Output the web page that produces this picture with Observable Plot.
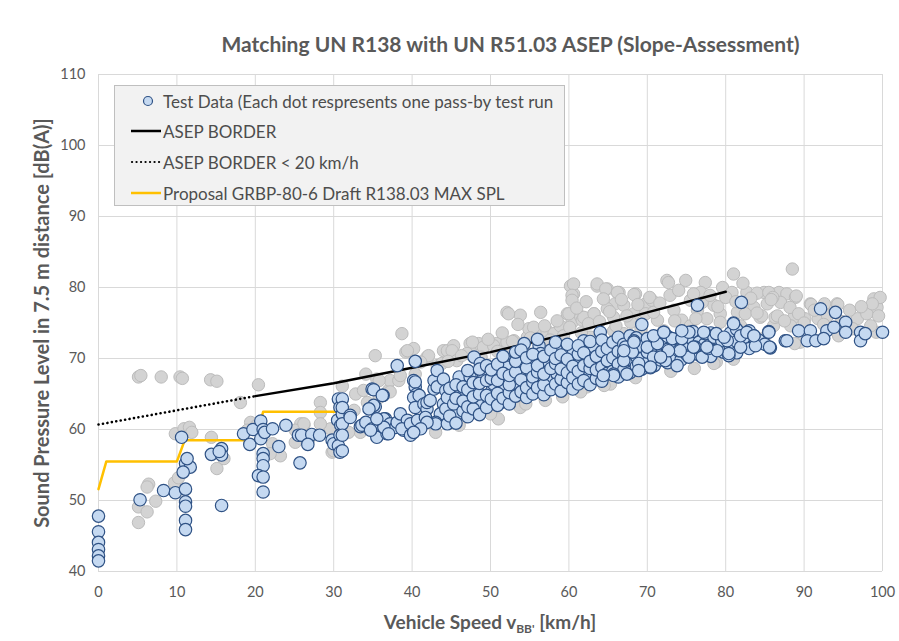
<!DOCTYPE html>
<html>
<head>
<meta charset="utf-8">
<script src="https://cdn.jsdelivr.net/npm/d3@7"></script>
<script src="https://cdn.jsdelivr.net/npm/@observablehq/plot@0.6"></script>
<style>
  html, body { margin: 0; padding: 0; background: #fff; }
  #wrap { position: relative; width: 899px; height: 641px; font-family: Lato, "Open Sans", sans-serif; }
  #legend { position: absolute; left: 114px; top: 85px; width: 451px; height: 121px; background: #f2f2f2; border: 1px solid #bfbfbf; box-sizing: border-box; }
  .row { position: absolute; left: 14px; height: 20px; display: flex; align-items: center; font-size: 17px; color: #4d4d4d; white-space: nowrap; }
  .row svg { width: 34px; height: 20px; }
</style>
</head>
<body>
<div id="wrap"></div>
<script>
// ---- text ----
const chartTitle = "Matching UN R138 with UN R51.03 ASEP (Slope-Assessment)";
const yTitle = "Sound Pressure Level in 7.5 m distance [dB(A)]";
const legendLabels = [
  "Test Data (Each dot respresents one pass-by test run",
  "ASEP BORDER",
  "ASEP BORDER < 20 km/h",
  "Proposal GRBP-80-6 Draft R138.03 MAX SPL"
];
const xTicks = [0, 10, 20, 30, 40, 50, 60, 70, 80, 90, 100];
const yTicks = [40, 50, 60, 70, 80, 90, 100, 110];

// ---- limit lines ----
const asepSpeed = [20, 30, 40, 50, 60, 70, 80];
const asepLevel = [64.7, 66.5, 68.7, 70.9, 73.5, 76.5, 79.4];
const asepLowSpeed = [0, 20];
const asepLowLevel = [60.7, 64.7];
const r138Speed = [0, 1, 10, 11, 20, 21, 30.2];
const r138Level = [51.6, 55.5, 55.5, 58.5, 58.5, 62.5, 62.5];

// ---- test data (blue): [speed km/h, level dB(A)] ----
const testRuns = [
[0,47.8],[0,45.6],[0,44.1],[0,43.1],[0,42.2],[0,41.5],
[5.3,50.1],[8.3,51.4],[9.8,51.1],
[10.6,58.9],[11.1,55.2],[11.7,54.7],[10.8,54.0],[11.3,55.9],[11.1,51.6],[11.1,49.8],[11.1,49.2],[11.1,47.2],[11.1,45.9],
[14.4,56.5],[15.7,57.3],[15.7,56.4],[15.4,56.9],[15.7,49.3],
[18.5,59.4],[19.3,57.9],[19.7,60.0],[20.7,61.2],[21.0,60.0],[20.7,58.7],[21.2,59.6],[21.0,56.6],[21.0,55.9],[21.0,54.9],[20.4,53.5],[21.0,53.3],[21.0,51.2],
[22.2,60.1],[23.9,60.6],[23.0,57.6],[25.7,55.3],[25.5,59.2],[25.9,59.2],[27.2,59.3],[28.2,59.2],[26.7,57.9],[29.8,58.5],[30.0,58.0],
[30.6,64.3],[30.8,63.1],[30.5,61.3],[30.9,60.6],[30.8,59.2],[30.6,57.7],[30.8,56.8],[31.1,62.2],[31.1,64.3],[31.1,63.1],[31.1,60.8],[31.1,59.2],[31.1,57.0],
[32.1,62.0],[32.1,61.7],[33.4,60.4],[33.6,60.6],[34.9,65.7],[35.1,65.6],[36.3,64.8],[35.3,63.2],[35.1,63.4],[34.5,62.9],[34.1,61.0],[34.9,60.1],[35.5,58.9],[36.6,61.5],[36.4,61.5],[36.8,59.4],[37.2,60.8],[37.9,60.3],[38.1,69.0],[40.4,69.6],
[38.1,61.0],[38.5,62.2],[38.9,59.9],[39.4,61.3],[38.7,60.1],[39.8,60.8],[39.8,59.2],[40.7,61.3],[40.2,66.9],[40.4,66.0],[40.4,66.7],[40.6,65.0],[40.2,64.5],[40.9,64.8],[40.4,63.1],[41.5,63.6],[41.9,62.9],[41.9,63.8],[41.7,61.7],[42.3,64.1],[42.8,65.7],[42.8,66.9],[43.2,68.3],[43.2,66.0],[44.0,67.1],[44.3,65.5],[44.0,63.6],[43.6,62.2],[43.0,61.0],[43.0,60.8],[41.9,61.0],[41.1,60.1],[40.2,59.6],[44.5,60.8],[44.3,62.9],[44.5,64.5],[36.2,64.8],[34.7,59.9],[36.4,60.3],[37.0,59.4],[35.5,61.5],
[45.8,62.2],[45.3,63.6],[46.0,67.4],[46.2,65.3],[47.4,67.4],[47.9,70.2],[48.7,69.3],[48.3,63.8],[49.1,67.8],[50.2,65.5],[50.4,66.4],[51.3,63.8],[51.7,65.5],[52.3,69.5],[52.1,68.8],[53.0,66.7],[53.8,66.2],[54.3,72.1],[53.8,70.0],[55.1,68.3],[55.5,69.3],[56.2,71.8],[56.4,70.7],[57.2,69.7],[57.4,67.4],[58.1,66.0],[58.5,67.8],[58.7,71.4],[59.8,71.1],[59.4,69.5],[60.4,66.0],[60.6,71.1],[61.5,69.7],[61.9,72.5],[62.3,67.8],[63.2,71.6],[64.0,73.7],[64.5,67.6],[65.3,70.2],
[44.8,61.9],[44.8,65.8],[45.6,60.9],[45.6,64.4],[45.6,66.3],[46.5,62.6],[46.5,64.0],[46.5,66.0],[47.1,61.8],[47.1,63.2],[47.1,65.6],[47.1,68.3],[47.8,62.9],[47.8,64.6],[47.8,66.6],[48.6,62.1],[48.6,65.0],[48.6,66.5],[48.6,68.5],[49.5,63.1],[49.5,64.8],[49.5,66.9],[49.5,69.0],[50.1,64.3],[50.1,67.2],[50.1,68.4],[50.9,63.4],[50.9,65.1],[50.9,66.9],[50.9,69.2],[51.6,64.4],[51.6,67.9],[51.6,70.3],[52.4,63.6],[52.4,65.2],[52.4,66.3],[52.4,67.6],[53.2,64.7],[53.2,68.1],[53.2,69.6],[53.2,70.9],[53.9,65.3],[53.9,67.0],[53.9,71.2],[54.6,64.5],[54.6,65.9],[54.6,68.7],[54.6,70.1],[55.4,65.0],[55.4,66.7],[55.4,67.4],[55.4,70.6],[56.0,65.9],[56.0,68.1],[56.0,69.0],[56.0,72.7],[56.8,64.9],[56.8,66.3],[56.8,67.8],[56.8,70.3],[57.7,65.6],[57.7,68.6],[57.7,71.2],[58.3,66.4],[58.3,69.3],[58.3,70.0],[58.3,72.3],[59.0,65.4],[59.0,67.1],[59.0,68.5],[59.0,70.5],[59.8,66.6],[59.8,68.0],[59.8,69.9],[59.8,72.0],[60.5,65.7],[60.5,67.3],[60.5,68.9],[61.2,66.4],[61.2,68.2],[61.2,70.6],[61.2,71.8],[61.9,66.9],[61.9,69.0],[61.9,70.8],[62.7,66.3],[62.7,68.6],[62.7,69.6],[62.7,72.4],[63.5,67.2],[63.5,68.4],[63.5,70.3],[64.2,66.8],[64.2,68.8],[64.2,71.0],[64.2,72.6],[64.9,67.9],[64.9,69.7],[64.9,71.4],[65.6,68.2],[65.6,70.1],[65.6,72.3],[66.3,67.4],[66.3,69.2],[66.3,71.0],[66.3,73.0],[67.0,68.4],[67.0,70.5],[67.0,72.0],[67.8,68.0],[67.8,69.9],[67.8,71.3],[67.8,73.2],[68.6,68.9],[68.6,70.3],[68.6,72.9],[69.3,68.5],[69.3,70.0],[69.3,71.7],[70.0,69.4],[70.0,70.9],[70.0,72.8],[70.9,69.0],[70.9,71.2],[70.9,73.0],[71.7,69.8],[71.7,70.5],[71.7,72.4],[72.6,69.4],[72.6,71.3],[72.6,73.1],[73.4,70.2],[73.4,71.9],[74.3,69.8],[74.3,71.5],[74.3,73.3],[75.0,70.6],[75.0,72.1],[75.8,70.9],[75.8,72.6],[75.8,73.8],[76.6,70.5],[76.6,72.3],[77.3,71.0],[77.3,72.0],[78.1,70.3],[78.1,72.2],[78.1,73.6],[78.9,71.3],[78.9,72.8],[79.7,70.9],[79.7,71.9],[80.6,71.6],[80.6,73.6],[81.4,70.8],[81.4,72.4],[81.4,74.1],[82.3,72.0],[82.3,72.9],[83.0,71.4],[83.0,73.9],[84.2,72.6],[85.0,72.0],
[65.7,67.8],[67.2,71.6],[68.1,70.9],[68.3,72.5],[67.0,69.7],[68.9,69.3],[70.4,68.7],[70.0,71.6],[71.3,72.1],[72.3,69.7],[72.1,73.7],[73.2,72.8],[74.0,71.1],[73.8,69.0],[74.4,72.8],[75.3,73.7],[75.3,70.2],[76.1,71.6],[77.0,70.2],[77.4,73.5],[77.8,71.4],[78.5,73.0],[79.5,72.5],[80.4,70.4],[81.0,75.0],[81.9,71.6],[81.9,73.2],[82.7,73.7],[83.6,73.2],[83.8,71.8],[85.5,73.8],[85.7,71.5],[76.4,77.5],[82.0,77.9],[69.3,74.8],[87.6,72.5],[70.8,70.2],
[83.6,73.2],[80.2,72.5],[80.4,70.7],[78.9,71.1],[77.6,71.6],[75.9,71.6],[74.2,71.1],[72.7,71.1],[71.7,70.2],[70.4,68.8],[68.9,68.3],[67.4,67.8],[65.7,67.6],[64.4,67.6],[67.0,71.1],[68.3,72.3],[70.8,73.2],[72.1,73.7],[74.4,73.9],[77.2,73.7],[78.8,73.5],[79.8,73.0],[81.0,74.9],
[87.8,72.5],[89.3,73.9],[90.8,73.9],[90.4,72.5],[91.5,72.5],[92.1,77.0],[92.9,73.9],[93.8,74.4],[94.0,76.5],[95.3,75.1],[95.3,73.7],[97.2,73.7],[97.2,72.5],[97.8,73.5],[100,73.7],[85.5,73.7],[85.6,71.6],[92.5,72.8]
];

// ---- other runs (grey): [speed km/h, level dB(A)] ----
const otherRuns = [
[5.1,67.4],[5.4,67.6],[8.0,67.4],[10.4,67.4],[10.7,67.2],[14.3,67.0],[15.1,66.8],[20.4,66.3],[18.1,63.8],
[9.8,59.4],[10.9,60.1],[11.6,60.3],[11.9,59.6],[14.4,58.9],[15.1,54.5],[16.0,55.9],[9.7,52.5],[10.2,53.2],[6.4,52.3],[6.2,51.9],[7.3,49.9],[5.1,49.1],[6.2,48.4],[5.1,46.9],
[19.4,61.0],[19.0,59.9],[20.2,60.6],
[22.2,58.0],[23.2,56.3],[21.9,56.6],[25.1,58.2],[25.8,60.8],[26.2,60.6],[25.1,59.9],[28.3,63.8],[28.3,62.4],[29.6,60.1],[29.8,56.8],[27.0,58.9],[28.3,60.8],[26.2,60.8],
[31.1,66.1],[32.8,65.0],[33.8,65.5],[35.8,64.5],[37.0,65.5],[37.2,66.9],[35.5,67.1],[34.3,63.8],[32.6,62.7],[33.4,59.6],[31.9,59.6],[30.0,57.0],[34.1,67.8],[35.8,66.9],[38.3,66.9],[37.2,65.3],[38.7,73.5],[35.3,70.4],[39.2,70.9],[40.2,71.4],[39.4,71.1],[41.9,70.2],[42.1,70.4],[44.0,71.1],[38.5,67.6],[40.4,67.8],[41.1,69.5],[43.2,69.0],[43.8,69.3],[44.5,71.1],[43.0,59.6],
[45.3,71.8],[45.1,71.1],[47.4,72.1],[47.9,71.1],[47.0,70.7],[45.7,69.7],[48.5,72.1],[50.8,72.1],[52.1,71.4],[53.0,72.5],[54.7,73.0],[55.5,73.5],[46.6,61.7],[49.6,63.1],[53.6,63.4],[51.0,61.5],
[52.1,76.5],[53.8,76.1],[54.9,74.2],[56.4,76.5],[56.2,73.9],[57.2,73.9],[58.1,73.5],[59.8,76.3],[60.4,75.1],[60.6,79.1],[60.2,80.2],[63.6,80.2],[61.5,75.9],[62.8,75.6],[63.2,76.3],
[60.6,80.5],[64.9,79.8],[66.2,79.3],[60.4,78.9],[60.4,78.2],[52.3,76.3],[60.0,76.3],[61.7,75.4],[65.9,77.7],[55.5,74.4],[58.9,74.6],[47.7,72.3],[49.1,71.6],[50.4,71.8],[52.1,72.3],
[63.6,80.5],[64.7,79.8],[66.4,79.3],[68.5,79.1],[69.8,77.7],[72.5,81.0],[74.9,81.0],[77.4,80.7],[79.6,80.0],[81.0,81.9],[80.8,79.3],[82.7,79.3],[84.9,79.3],[86.8,79.3],[87.8,79.1],[88.9,78.6],[88.5,82.6],[90.8,77.7],[92.5,77.2],[94.2,77.7],[96.8,75.6],[98.0,76.3],[99.3,77.2],[98.9,78.4],[99.7,78.6],
[78.5,77.5],[79.3,76.3],[81.5,76.5],[83.6,77.2],[85.3,77.7],[87.0,77.9],[88.7,75.8],[61.9,75.8],[63.2,76.3],[64.9,77.0],[65.7,75.8],[67.0,77.5],[68.3,76.3],[69.8,76.3],[71.3,75.4],[73.4,76.8],[75.5,78.2],[76.8,79.3],[74.4,75.4],[76.4,76.8],[77.6,75.6],[79.3,75.1],[81.9,74.6],[84.4,75.8],[86.1,74.6],[89.5,72.3],[65.7,73.9],[67.9,75.1],[62.8,73.0],[67.0,73.5],[72.1,73.9],[75.5,74.6],[78.8,69.5],[65.3,66.4],[62.3,66.0],[74.4,70.0],[70.0,69.3],
[72.7,80.7],[66.2,79.3],[68.3,79.0],[70.6,78.2],[84.0,79.2],[85.5,79.3],[82.5,76.3],[84.6,76.0],[86.3,75.8],[86.0,78.6],[89.0,78.8],[90.9,77.6],[92.6,77.7],[94.3,77.6],[90.1,75.6],[91.8,75.6],[98.7,77.7],[88.3,74.6],[88.8,72.1],[99.2,73.7],[78.5,69.3],[53.8,63.1],[64.5,66.2],
[44.6,69.6],[46.3,70.4],[48.8,70.2],[49.7,72.7],[50.9,71.0],[51.5,73.6],[52.8,72.4],[53.5,74.8],[54.4,71.0],[55.1,72.9],[56.9,74.6],[57.6,72.6],[58.5,75.3],[59.3,73.2],[60.1,74.4],[61.0,77.1],[61.6,73.6],[62.2,78.0],[62.5,74.9],[63.9,75.2],[64.4,78.4],[65.2,76.6],[66.0,74.6],[66.7,78.3],[67.4,76.0],[68.8,77.6],[69.2,74.2],[70.3,78.6],[70.8,76.5],[71.6,77.8],[72.9,78.9],[73.5,75.3],[74.0,79.6],[75.9,79.1],[76.2,75.6],[77.0,77.9],[78.0,78.9],[79.0,77.3],[80.0,78.6],[81.3,78.0],[82.2,80.6],[83.2,78.5],[84.0,76.4],[85.8,78.3],[86.6,76.0],[87.5,75.3],[88.2,77.2],[89.3,76.3],[90.0,75.0],[91.3,76.8],[93.0,76.0],[94.8,75.2],[95.8,76.8],[97.3,77.3],[98.5,74.6],[99.5,76.0],[92.5,74.8],[96.2,74.2],
[46.0,60.6],[50.0,62.2],[54.5,63.6],[57.0,64.1],[59.2,64.6],[61.5,65.3],[68.5,67.3],[73.0,68.2],[76.0,68.6],[81.0,69.9],[84.9,72.9],[94.4,73.2]
];

const asepLine = asepSpeed.map((s, i) => ({speed: s, level: asepLevel[i]}));
const asepLowLine = asepLowSpeed.map((s, i) => ({speed: s, level: asepLowLevel[i]}));
const r138Line = r138Speed.map((s, i) => ({speed: s, level: r138Level[i]}));
const blue = testRuns.map(([speed, level]) => ({speed, level}));
const grey = otherRuns.map(([speed, level]) => ({speed, level}));

const textColor = "#595959";
const plot = Plot.plot({
  width: 899,
  height: 641,
  marginLeft: 98,
  marginRight: 17,
  marginTop: 74,
  marginBottom: 70,
  style: {fontFamily: "Lato, 'Open Sans', sans-serif", color: textColor, background: "#fff"},
  x: {domain: [0, 100]},
  y: {domain: [40, 110]},
  marks: [
    Plot.gridX(xTicks, {stroke: "#d9d9d9", strokeOpacity: 1, strokeWidth: 1}),
    Plot.gridY(yTicks, {stroke: "#d9d9d9", strokeOpacity: 1, strokeWidth: 1}),
    Plot.axisX({ticks: xTicks, tickSize: 0, tickPadding: 15, fontSize: 14.5, label: null, color: textColor}),
    Plot.axisY({ticks: yTicks, tickSize: 0, tickPadding: 13, fontSize: 14.5, label: null, color: textColor}),
    Plot.dot(grey, {x: "speed", y: "level", r: 6.2, fill: "#d3d3d3", stroke: "#bcbcbc", strokeWidth: 1}),
    Plot.line(r138Line, {x: "speed", y: "level", stroke: "#ffc000", strokeWidth: 2.5}),
    Plot.line(asepLowLine, {x: "speed", y: "level", stroke: "#000", strokeWidth: 2.6, strokeDasharray: "0.1,4.4", strokeLinecap: "round"}),
    Plot.line(asepLine, {x: "speed", y: "level", stroke: "#000", strokeWidth: 2.5}),
    Plot.dot(blue, {x: "speed", y: "level", r: 6.2, fill: "#c5d9f1", stroke: "#2f5285", strokeWidth: 1.2}),
    Plot.text([yTitle], {frameAnchor: "left", dx: -56, rotate: -90, textAnchor: "middle", lineAnchor: "middle", fontSize: 20, fontWeight: "bold", fill: textColor}),
    Plot.text([chartTitle], {frameAnchor: "top", dx: 20, dy: -29, textAnchor: "middle", lineAnchor: "middle", fontSize: 21, fontWeight: "bold", fill: textColor})
  ]
});

// x-axis title with subscript
const svg = d3.select(plot);
const xt = svg.append("text")
  .attr("x", 490).attr("y", 629)
  .attr("text-anchor", "middle")
  .attr("font-size", 19).attr("font-weight", "bold")
  .attr("fill", textColor);
xt.append("tspan").text("Vehicle Speed v");
xt.append("tspan").attr("font-size", 12).attr("dy", 4).text("BB'");
xt.append("tspan").attr("dy", -4).text(" [km/h]");

const wrap = document.getElementById("wrap");
wrap.appendChild(plot);

// legend
const legend = document.createElement("div");
legend.id = "legend";
const rowTops = [5, 35, 66, 97];
const swatches = [
  '<svg viewBox="0 0 34 20"><circle cx="19" cy="10" r="4.5" fill="#c5d9f1" stroke="#2f5285" stroke-width="1.2"/></svg>',
  '<svg viewBox="0 0 34 20"><line x1="2" x2="32" y1="10" y2="10" stroke="#000" stroke-width="2.5"/></svg>',
  '<svg viewBox="0 0 34 20"><line x1="3" x2="32" y1="10" y2="10" stroke="#000" stroke-width="2.2" stroke-dasharray="0.1,4.4" stroke-linecap="round"/></svg>',
  '<svg viewBox="0 0 34 20"><line x1="2" x2="32" y1="10" y2="10" stroke="#ffc000" stroke-width="2.5"/></svg>'
];
legendLabels.forEach((lab, i) => {
  const r = document.createElement("div");
  r.className = "row";
  r.style.top = rowTops[i] + "px";
  r.innerHTML = swatches[i] + "<span></span>";
  r.querySelector("span").textContent = lab;
  legend.appendChild(r);
});
wrap.appendChild(legend);
</script>
</body>
</html>
